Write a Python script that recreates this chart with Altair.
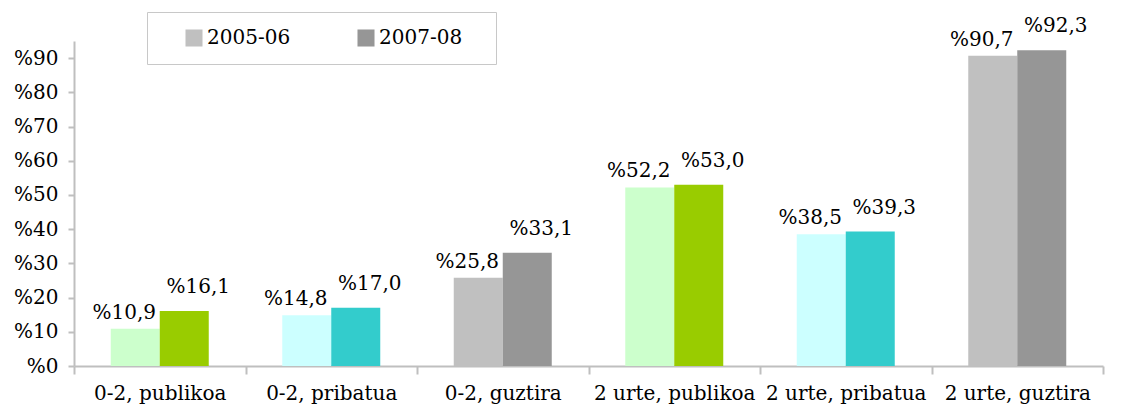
import altair as alt
import pandas as pd

categories = ["0-2, publikoa", "0-2, pribatua", "0-2, guztira",
              "2 urte, publikoa", "2 urte, pribatua", "2 urte, guztira"]
periods = ["2005-06", "2007-08"]
v_2005 = [10.9, 14.8, 25.8, 52.2, 38.5, 90.7]
v_2007 = [16.1, 17.0, 33.1, 53.0, 39.3, 92.3]
light_colors = ["#CCFFCC", "#CCFFFF", "#C0C0C0", "#CCFFCC", "#CCFFFF", "#C0C0C0"]
dark_colors = ["#99CC00", "#33CCCC", "#969696", "#99CC00", "#33CCCC", "#969696"]
legend_colors = ["#C0C0C0", "#969696"]

rows = []
for i, c in enumerate(categories):
    for p, vals, cols in ((periods[0], v_2005, light_colors), (periods[1], v_2007, dark_colors)):
        v = vals[i]
        rows.append({"cat": c, "period": p, "value": v, "fillc": cols[i],
                     "label": "%" + f"{v:.1f}".replace(".", ",")})
df = pd.DataFrame(rows)

FONT = "DejaVu Serif"

x_enc = alt.X("cat:N", sort=categories,
              scale=alt.Scale(paddingInner=0, paddingOuter=0),
              axis=alt.Axis(title=None, labelAngle=0, tickBand="extent", tickSize=8,
                            labelPadding=9, labelFontSize=20, labelFont=FONT,
                            labelColor="black", domainColor="#BFBFBF", tickColor="#BFBFBF",
                            domainWidth=2, tickWidth=2, grid=False))
y_enc = alt.Y("value:Q", scale=alt.Scale(domain=[0, 95], nice=False),
              axis=alt.Axis(title=None, values=list(range(0, 91, 10)),
                            labelExpr="'%' + datum.value", labelFontSize=20, labelFont=FONT,
                            labelColor="black", domainColor="#BFBFBF", tickColor="#BFBFBF",
                            domainWidth=2, tickWidth=2, tickSize=6, labelPadding=10, grid=False))
xoff = alt.XOffset("period:N", sort=periods, scale=alt.Scale(paddingInner=0, paddingOuter=0.75))

base = alt.Chart(df)

bars = base.mark_bar().encode(
    x=x_enc, y=y_enc, xOffset=xoff,
    fill=alt.Fill("fillc:N", scale=None),
)

legend_layer = base.mark_bar(opacity=0).encode(
    x=x_enc, xOffset=xoff,
    y=alt.value(0), y2=alt.value(0),
    color=alt.Color("period:N", sort=periods,
                    scale=alt.Scale(domain=periods, range=legend_colors),
                    legend=alt.Legend(title="....", titleColor="white", titleOrient="right",
                                      titleFontSize=16, titlePadding=0,
                                      orient="none", direction="horizontal",
                                      legendX=73, legendY=-29, symbolType="square",
                                      symbolSize=290, symbolOpacity=1, symbolStrokeWidth=0,
                                      labelFont=FONT, labelFontSize=20, labelColor="black",
                                      labelOffset=3, columnPadding=44, padding=16,
                                      symbolOffset=21, strokeColor="#C8C8C8",
                                      fillColor="white")),
)

labels_a = base.transform_filter(alt.datum.period == periods[0]).mark_text(
    font=FONT, fontSize=20, baseline="alphabetic", dy=-10, dx=-11, color="black"
).encode(x=x_enc, y=y_enc, xOffset=xoff, text="label:N")

labels_b = base.transform_filter(alt.datum.period == periods[1]).mark_text(
    font=FONT, fontSize=20, baseline="alphabetic", dy=-18, dx=14, color="black"
).encode(x=x_enc, y=y_enc, xOffset=xoff, text="label:N")

chart = alt.layer(bars, legend_layer, labels_a, labels_b).properties(
    width=1029, height=325,
    autosize=alt.AutoSizeParams(type="none"),
    padding={"left": 66, "top": 33, "right": 14, "bottom": 42},
).configure_view(stroke=None)

chart.save("out.html", embed_options={"renderer": "svg", "actions": False})
